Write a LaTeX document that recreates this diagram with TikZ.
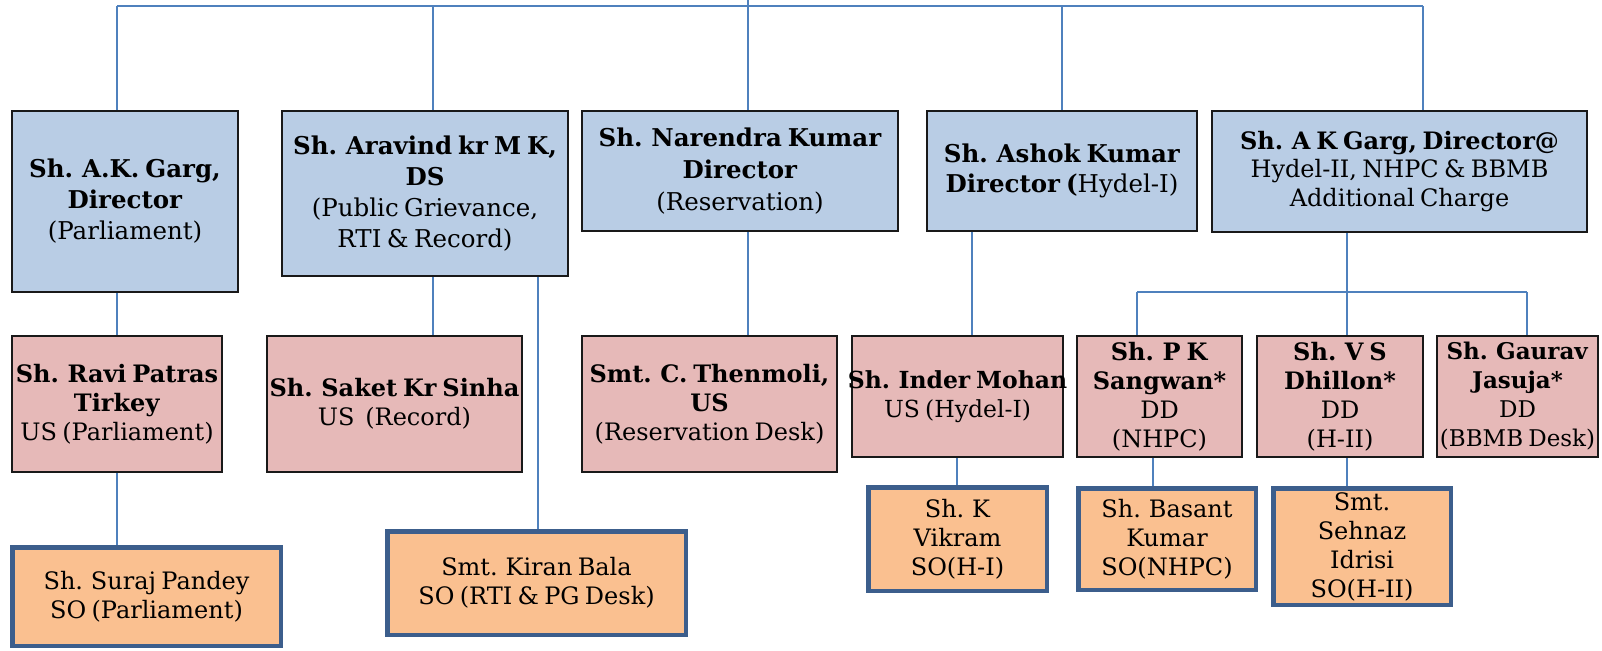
\documentclass[tikz,border=0pt]{standalone}
\usepackage{fontspec}
\setmainfont{DejaVu Serif}[WordSpace=0.7]
\definecolor{bluefill}{HTML}{B9CDE5}
\definecolor{pinkfill}{HTML}{E6B9B8}
\definecolor{orangefill}{HTML}{FAC090}
\definecolor{orangeline}{HTML}{3C5E8C}
\definecolor{conn}{HTML}{4F81BD}
\newcommand{\nofit}[1]{\makebox[0pt][c]{#1}}
\tikzset{
  basebox/.style={inner sep=0pt, align=center, font=\fontsize{24}{29}\selectfont},
  bluebox/.style={basebox, draw=black!90, line width=1.5pt, fill=bluefill},
  pinkbox/.style={basebox, draw=black!90, line width=1.5pt, fill=pinkfill},
  orangebox/.style={basebox, draw=orangeline, line width=4.5pt, fill=orangefill},
  link/.style={draw=conn, line width=1.5pt},
}
\begin{document}
\begin{tikzpicture}[x=1pt,y=-1pt]
\useasboundingbox (0,0) rectangle (1602,650);
% blue row
\node[bluebox, minimum width=226, minimum height=181, font=\fontsize{24.5}{31}\selectfont] (B1) at (125,201.5)
  {\textbf{Sh. A.K. Garg,}\\\textbf{Director}\\(Parliament)};
\node[bluebox, minimum width=286, minimum height=165, font=\fontsize{24.5}{31}\selectfont] (B2) at (425,193.5)
  {\textbf{Sh. Aravind kr M K,}\\\textbf{DS}\\(Public Grievance,\\RTI \& Record)};
\node[bluebox, minimum width=316, minimum height=120, font=\fontsize{24.5}{32}\selectfont] (B3) at (740,171)
  {\textbf{Sh. Narendra Kumar}\\\textbf{Director}\\(Reservation)};
\node[bluebox, minimum width=270, minimum height=120, font=\fontsize{24.5}{30}\selectfont] (B4) at (1062,171)
  {\textbf{Sh. Ashok Kumar}\\\textbf{Director (}Hydel-I)};
\node[bluebox, minimum width=375, minimum height=121, font=\fontsize{24}{28.5}\selectfont] (B5) at (1399.5,171.5)
  {\textbf{Sh. A K Garg, Director@}\\Hydel-II, NHPC \& BBMB\\Additional Charge};
% pink row
\node[pinkbox, minimum width=210, minimum height=136] (P1) at (117,404)
  {\textbf{Sh. Ravi Patras}\\\textbf{Tirkey}\\US (Parliament)};
\node[pinkbox, minimum width=255, minimum height=136] (P2) at (394.5,404)
  {\nofit{\textbf{Sh. Saket Kr Sinha}}\\US\ \ (Record)};
\node[pinkbox, minimum width=255, minimum height=136] (P3) at (709.5,404)
  {\textbf{Smt. C. Thenmoli,}\\\textbf{US}\\(Reservation Desk)};
\node[pinkbox, minimum width=211, minimum height=121, font=\fontsize{23.5}{29}\selectfont] (P4) at (957.5,396.5)
  {\nofit{\textbf{Sh. Inder Mohan}}\\US (Hydel-I)};
\node[pinkbox, minimum width=165, minimum height=121] (P5) at (1159.5,396.5)
  {\textbf{Sh. P K}\\\textbf{Sangwan*}\\DD\\(NHPC)};
\node[pinkbox, minimum width=166, minimum height=121] (P6) at (1340,396.5)
  {\textbf{Sh. V S}\\\textbf{Dhillon*}\\DD\\(H-II)};
\node[pinkbox, minimum width=161, minimum height=121, font=\fontsize{23}{29}\selectfont] (P7) at (1517.5,396.5)
  {\textbf{Sh. Gaurav}\\\textbf{Jasuja*}\\DD\\\nofit{(BBMB Desk)}};
% orange row
\node[orangebox, minimum width=268.5, minimum height=98.5] (O1) at (146.5,596.5)
  {Sh. Suraj Pandey\\SO (Parliament)};
\node[orangebox, minimum width=298.5, minimum height=103.5] (O2) at (536.5,583)
  {Smt. Kiran Bala\\SO (RTI \& PG Desk)};
\node[orangebox, minimum width=178.5, minimum height=103.5] (O3) at (957.5,539)
  {Sh. K\\Vikram\\SO(H-I)};
\node[orangebox, minimum width=177.5, minimum height=101.5] (O4) at (1167,539)
  {Sh. Basant\\Kumar\\SO(NHPC)};
\node[orangebox, minimum width=177.5, minimum height=116.5] (O5) at (1362,546.5)
  {Smt.\\Sehnaz\\Idrisi\\SO(H-II)};
% connectors
\coordinate (root) at (748,0);
\coordinate (hub) at (748,6);
\coordinate (d1) at (117,6);
\coordinate (d2) at (433,6);
\coordinate (d3) at (748,6);
\coordinate (d4) at (1062,6);
\coordinate (d5) at (1423,6);
\coordinate (k2) at (538,0);
\coordinate (k4) at (972,0);
\coordinate (g4) at (957,0);
\coordinate (h0) at (1347,292);
\coordinate (h5) at (1137,292);
\coordinate (h7) at (1527,292);
\coordinate (s5) at (1153,0);
\draw[link] (root) -- (hub);
\draw[link] (d1) -- (d5);
\draw[link] (d1) -- (d1 |- B1.north);
\draw[link] (d2) -- (d2 |- B2.north);
\draw[link] (d3) -- (d3 |- B3.north);
\draw[link] (d4) -- (d4 |- B4.north);
\draw[link] (d5) -- (d5 |- B5.north);
\draw[link] (d1 |- B1.south) -- (d1 |- P1.north);
\draw[link] (d1 |- P1.south) -- (d1 |- O1.north);
\draw[link] (d2 |- B2.south) -- (d2 |- P2.north);
\draw[link] (k2 |- B2.south) -- (k2 |- O2.north);
\draw[link] (d3 |- B3.south) -- (d3 |- P3.north);
\draw[link] (k4 |- B4.south) -- (k4 |- P4.north);
\draw[link] (g4 |- P4.south) -- (g4 |- O3.north);
\draw[link] (h0 |- B5.south) -- (h0);
\draw[link] (h5) -- (h7);
\draw[link] (h5) -- (h5 |- P5.north);
\draw[link] (h0) -- (h0 |- P6.north);
\draw[link] (h7) -- (h7 |- P7.north);
\draw[link] (s5 |- P5.south) -- (s5 |- O4.north);
\draw[link] (h0 |- P6.south) -- (h0 |- O5.north);
\end{tikzpicture}
\end{document}
